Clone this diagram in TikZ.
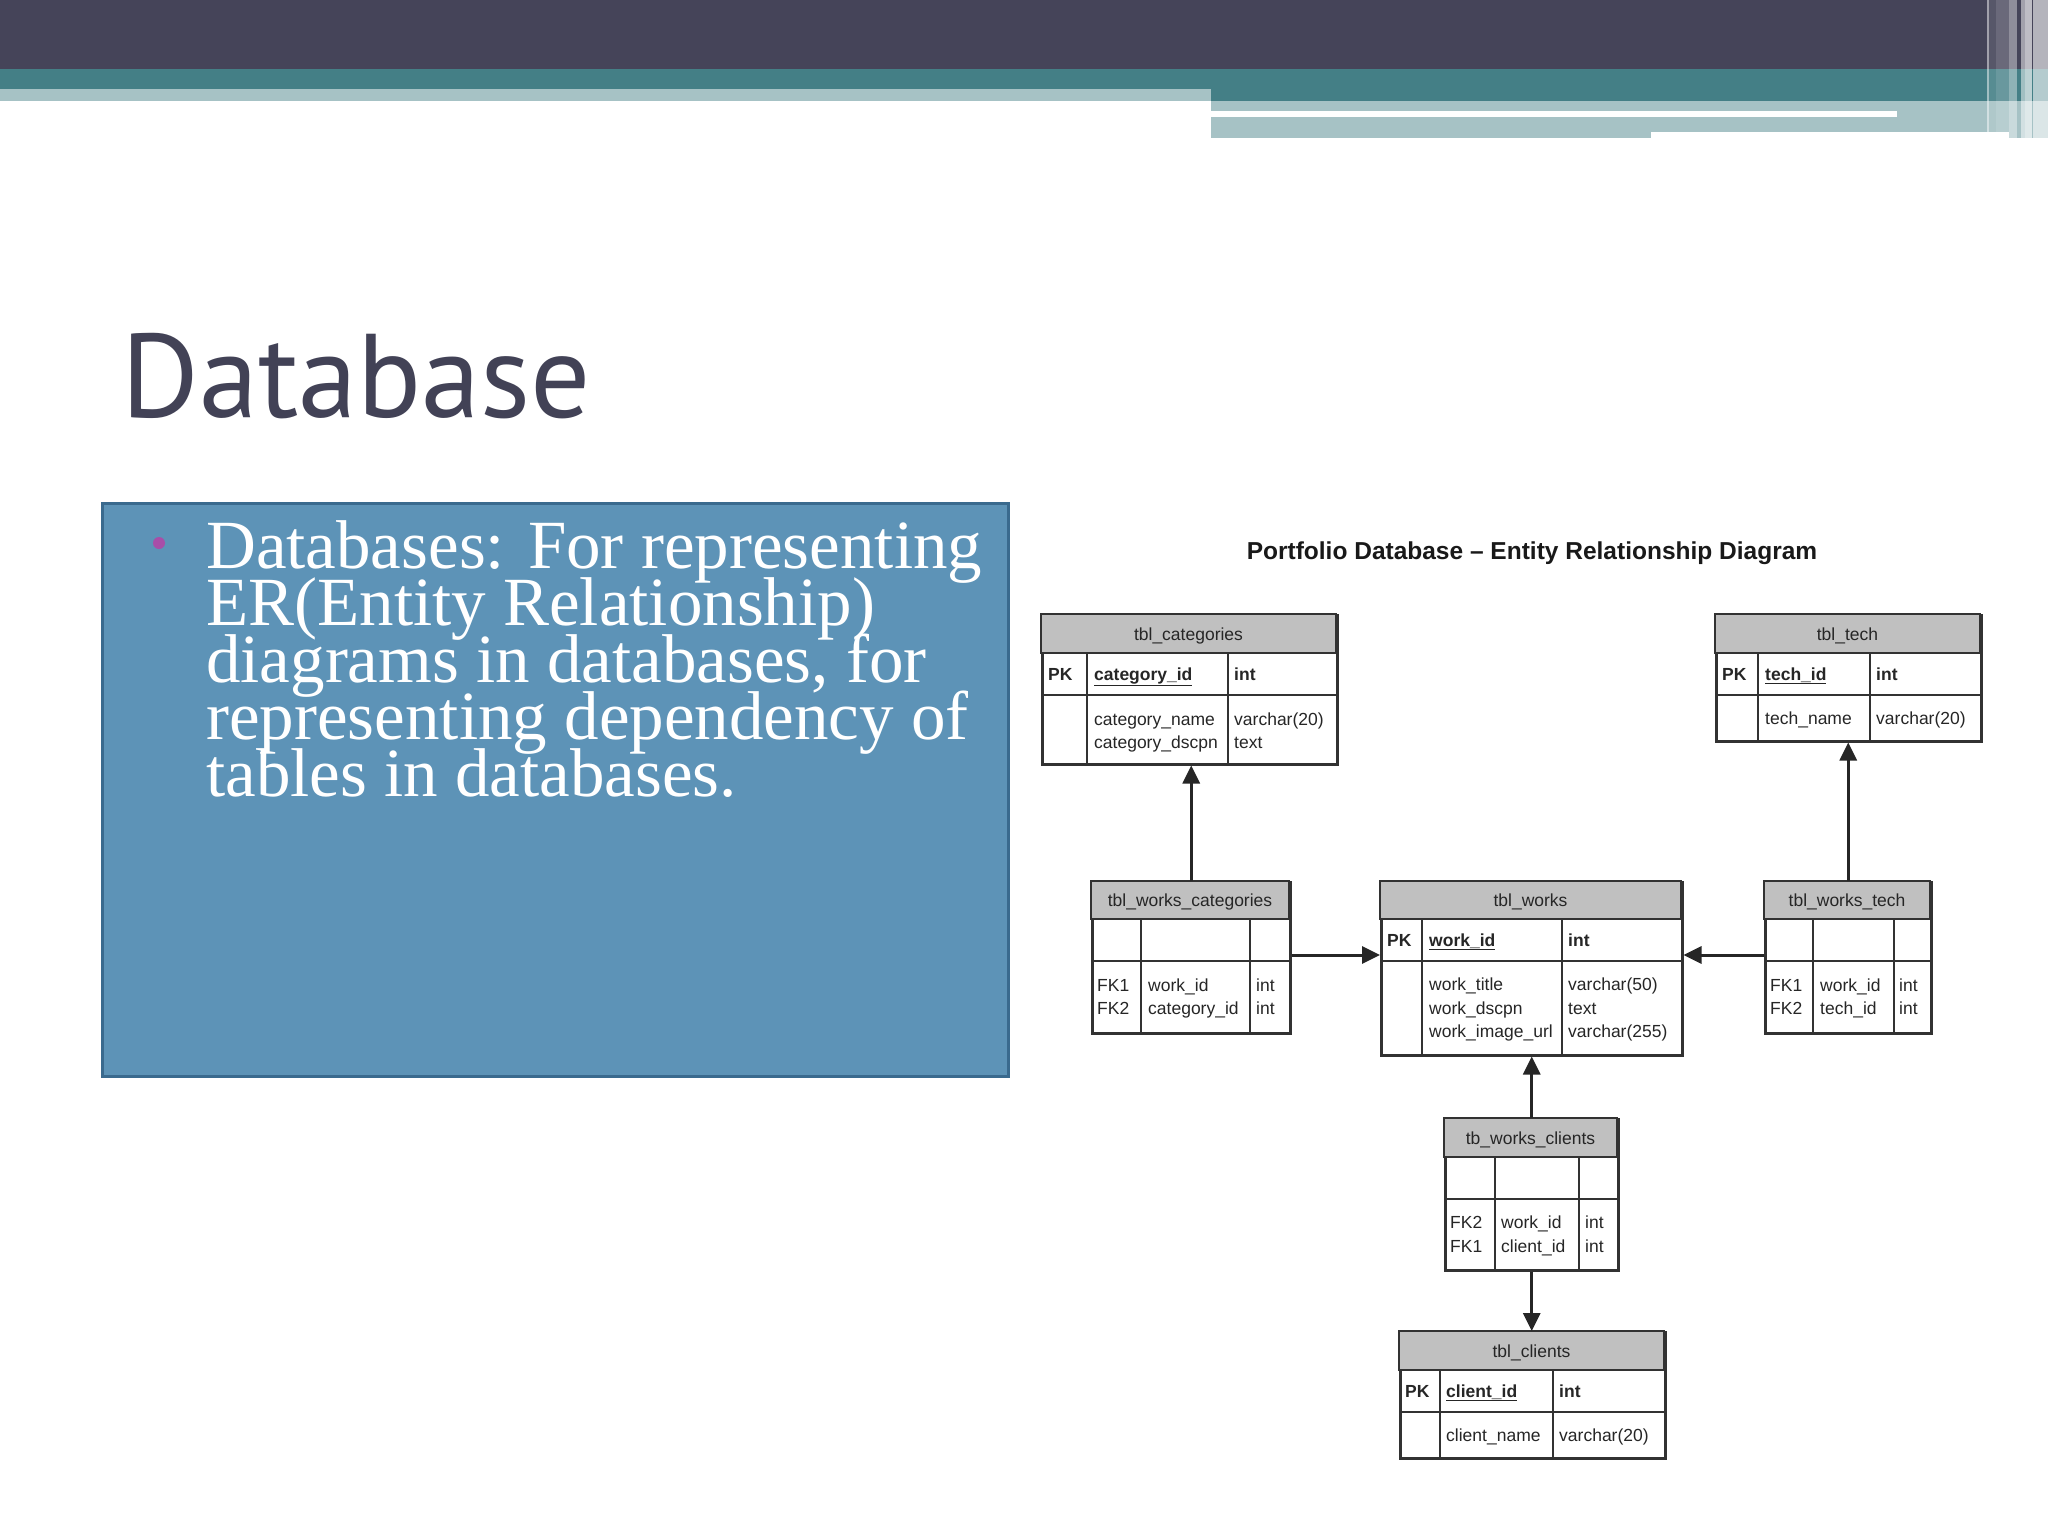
\documentclass[tikz,border=0pt]{standalone}
\usepackage{fontspec}
\setmainfont{Liberation Serif}
\newfontfamily\tabfont{Liberation Sans}
\newfontfamily\headfont{PT Sans}
\usetikzlibrary{arrows.meta}
\setlength{\lineskiplimit}{-100pt}
\definecolor{topdark}{RGB}{69,68,89}
\definecolor{topteal}{RGB}{68,127,134}
\definecolor{toplight}{RGB}{166,194,197}
\definecolor{boxfill}{RGB}{93,147,183}
\definecolor{boxline}{RGB}{58,106,142}
\definecolor{bulletc}{RGB}{168,78,168}
\definecolor{titlec}{RGB}{66,66,86}
\definecolor{tline}{RGB}{50,50,50}
\definecolor{thead}{RGB}{192,192,192}
\begin{document}
\begin{tikzpicture}[x=1pt, y=-1pt,
  tbl/.style={draw=tline, line width=2.5pt, inner sep=0pt, anchor=north west},
  hdr/.style={fill=thead, draw=tline, line width=2.5pt},
  divider/.style={draw=tline, line width=2.5pt},
  txt/.style={font=\tabfont\fontsize{17.5}{21}\selectfont, text=black!85, inner sep=0pt, anchor=base west},
  hd/.style={txt, anchor=base},
  link/.style={draw=black!85, line width=3pt, -{Triangle[length=18pt, width=17pt]}}]
   \useasboundingbox (0,0) rectangle (2048,1536);
   \fill[white] (0,0) rectangle (2048,1536);
   \fill[topdark] (0,0) rectangle (2048,69);
   \fill[topteal] (0,69) rectangle (1211,89);
   \fill[topteal] (1211,69) rectangle (2048,101);
   \fill[toplight] (0,89) rectangle (1211,101);
   \fill[toplight] (1211,101) rectangle (2048,132);
   \fill[toplight] (1211,132) rectangle (1651,138);
   \fill[toplight] (2009,132) rectangle (2048,138);
   \fill[white] (1211,111) rectangle (1897,117);
   \fill[white, opacity=.5] (1987,0) rectangle (1989,132);
   \fill[white, opacity=.1] (1989,0) rectangle (1996,132);
   \fill[white, opacity=.2] (1996,0) rectangle (2009,132);
   \fill[white, opacity=.4] (2009,0) rectangle (2017,138);
   \fill[white, opacity=.5] (2021,0) rectangle (2025,138);
   \fill[white, opacity=.65] (2025,0) rectangle (2032,138);
   \fill[white, opacity=.6] (2033,0) rectangle (2048,138);

   \node[anchor=base west, inner sep=0pt, text=titlec, font=\headfont\fontsize{119}{124}\selectfont] (title) at (121,417) {Database};

   \filldraw[fill=boxfill, draw=boxline, line width=3pt] (102,503) rectangle (1008,1076);
   \fill[bulletc] (159,543) circle (6pt);
   \node[anchor=base west, align=left, inner sep=0pt, text=white, font=\fontsize{69}{57}\selectfont] (bul) at (206,796) {Databases: For representing\\ER(Entity Relationship)\\diagrams in databases, for\\representing dependency of\\tables in databases.};

   \node[anchor=base, inner sep=0pt, text=black!90, font=\tabfont\bfseries\fontsize{24.5}{29}\selectfont] (ertitle) at (1532,559) {Portfolio Database – Entity Relationship Diagram};

   \node[tbl, minimum width=295pt, minimum height=149pt] (cat) at (1041,614) {};
   \filldraw[hdr] (1041,614) rectangle (1336,653);
   \draw[divider] (1041,695) -- (1336,695) (1087,653) -- (1087,763) (1228,653) -- (1228,763);
   \node[hd] (cat-h) at (1188.5,640) {tbl\_categories};
   \node[txt] (cat-pk) at (1048,680) {\bfseries PK};
   \node[txt] (cat-id) at (1094,680) {\bfseries\underline{category\_id}};
   \node[txt] (cat-ty) at (1234,680) {\bfseries int};
   \node[txt] (cat-f1) at (1094,725) {category\_name};
   \node[txt] (cat-f2) at (1094,748) {category\_dscpn};
   \node[txt] (cat-t1) at (1234,725) {varchar(20)};
   \node[txt] (cat-t2) at (1234,748) {text};

   \node[tbl, minimum width=265pt, minimum height=126pt] (tech) at (1715,614) {};
   \filldraw[hdr] (1715,614) rectangle (1980,653);
   \draw[divider] (1715,695) -- (1980,695) (1758,653) -- (1758,740) (1870,653) -- (1870,740);
   \node[hd] (tech-h) at (1847.5,640) {tbl\_tech};
   \node[txt] (tech-pk) at (1722,680) {\bfseries PK};
   \node[txt] (tech-id) at (1765,680) {\bfseries\underline{tech\_id}};
   \node[txt] (tech-ty) at (1876,680) {\bfseries int};
   \node[txt] (tech-f1) at (1765,724) {tech\_name};
   \node[txt] (tech-t1) at (1876,724) {varchar(20)};

   \node[tbl, minimum width=198pt, minimum height=151pt] (wcat) at (1091,881) {};
   \filldraw[hdr] (1091,881) rectangle (1289,919);
   \draw[divider] (1091,961) -- (1289,961) (1141,919) -- (1141,1032) (1250,919) -- (1250,1032);
   \node[hd] (wcat-h) at (1190,906) {tbl\_works\_categories};
   \node[txt] (wcat-k1) at (1097,991) {FK1};
   \node[txt] (wcat-k2) at (1097,1014.5) {FK2};
   \node[txt] (wcat-f1) at (1148,991) {work\_id};
   \node[txt] (wcat-f2) at (1148,1014.5) {category\_id};
   \node[txt] (wcat-t1) at (1256,991) {int};
   \node[txt] (wcat-t2) at (1256,1014.5) {int};

   \node[tbl, minimum width=301pt, minimum height=173pt] (works) at (1380,881) {};
   \filldraw[hdr] (1380,881) rectangle (1681,919);
   \draw[divider] (1380,961) -- (1681,961) (1422,919) -- (1422,1054) (1562,919) -- (1562,1054);
   \node[hd] (works-h) at (1530.5,906) {tbl\_works};
   \node[txt] (works-pk) at (1387,946) {\bfseries PK};
   \node[txt] (works-id) at (1429,946) {\bfseries\underline{work\_id}};
   \node[txt] (works-ty) at (1568,946) {\bfseries int};
   \node[txt] (works-f1) at (1429,990) {work\_title};
   \node[txt] (works-f2) at (1429,1014) {work\_dscpn};
   \node[txt] (works-f3) at (1429,1037) {work\_image\_url};
   \node[txt] (works-t1) at (1568,990) {varchar(50)};
   \node[txt] (works-t2) at (1568,1014) {text};
   \node[txt] (works-t3) at (1568,1037) {varchar(255)};

   \node[tbl, minimum width=166pt, minimum height=151pt] (wtech) at (1764,881) {};
   \filldraw[hdr] (1764,881) rectangle (1930,919);
   \draw[divider] (1764,961) -- (1930,961) (1813,919) -- (1813,1032) (1894,919) -- (1894,1032);
   \node[hd] (wtech-h) at (1847,906) {tbl\_works\_tech};
   \node[txt] (wtech-k1) at (1770,991) {FK1};
   \node[txt] (wtech-k2) at (1770,1014.5) {FK2};
   \node[txt] (wtech-f1) at (1820,991) {work\_id};
   \node[txt] (wtech-f2) at (1820,1014.5) {tech\_id};
   \node[txt] (wtech-t1) at (1899,991) {int};
   \node[txt] (wtech-t2) at (1899,1014.5) {int};

   \node[tbl, minimum width=173pt, minimum height=151pt] (wcl) at (1444,1118) {};
   \filldraw[hdr] (1444,1118) rectangle (1617,1157);
   \draw[divider] (1444,1199) -- (1617,1199) (1495,1157) -- (1495,1269) (1579,1157) -- (1579,1269);
   \node[hd] (wcl-h) at (1530.5,1144) {tb\_works\_clients};
   \node[txt] (wcl-k1) at (1450,1228.5) {FK2};
   \node[txt] (wcl-k2) at (1450,1252) {FK1};
   \node[txt] (wcl-f1) at (1501,1228.5) {work\_id};
   \node[txt] (wcl-f2) at (1501,1252) {client\_id};
   \node[txt] (wcl-t1) at (1585,1228.5) {int};
   \node[txt] (wcl-t2) at (1585,1252) {int};

   \node[tbl, minimum width=265pt, minimum height=126pt] (clients) at (1399,1331) {};
   \filldraw[hdr] (1399,1331) rectangle (1664,1370);
   \draw[divider] (1399,1412) -- (1664,1412) (1440,1370) -- (1440,1457) (1553,1370) -- (1553,1457);
   \node[hd] (clients-h) at (1531.5,1357) {tbl\_clients};
   \node[txt] (clients-pk) at (1405,1397) {\bfseries PK};
   \node[txt] (clients-id) at (1446,1397) {\bfseries\underline{client\_id}};
   \node[txt] (clients-ty) at (1559,1397) {\bfseries int};
   \node[txt] (clients-f1) at (1446,1441) {client\_name};
   \node[txt] (clients-t1) at (1559,1441) {varchar(20)};

   \coordinate (lk) at (0,955);
   \draw[link] (wcat.north) -- (wcat.north |- cat.south);
   \draw[link] (wtech.north) -- (wtech.north |- tech.south);
   \draw[link] (wcat.east |- lk) -- (works.west |- lk);
   \draw[link] (wtech.west |- lk) -- (works.east |- lk);
   \draw[link] (wcl.north) -- (wcl.north |- works.south);
   \draw[link] (wcl.south) -- (wcl.south |- clients.north);
  \end{tikzpicture}
\end{document}
